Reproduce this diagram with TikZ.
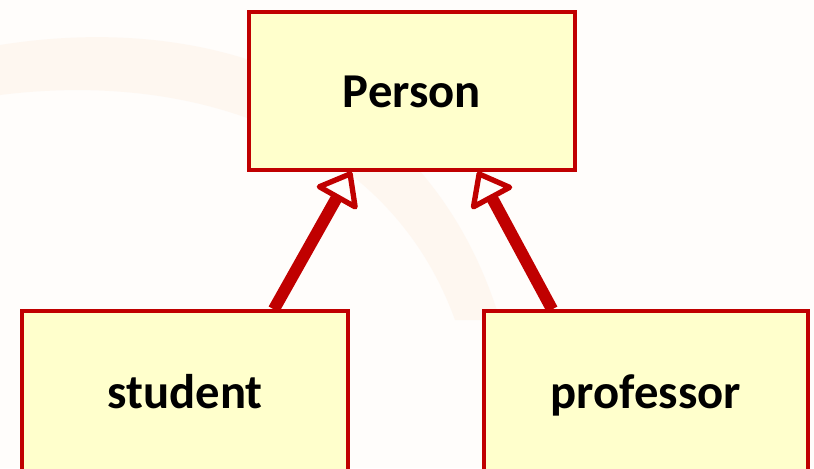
\documentclass[tikz,border=0pt]{standalone}
\usepackage{fontspec}
\setmainfont{Carlito}
\usetikzlibrary{arrows.meta,calc}
\definecolor{umlred}{HTML}{C00000}
\definecolor{umlfill}{HTML}{FFFFCC}
\definecolor{pagebg}{HTML}{FFFDFB}
\definecolor{swoosh}{HTML}{FDF0E4}
\begin{document}
\begin{tikzpicture}[x=0.75pt,y=-0.75pt,
  classbox/.style={draw=umlred, fill=umlfill, line width=2.4pt,
    inner sep=0pt, text height=24pt, text depth=0pt,
    font=\fontsize{36.5}{42}\selectfont\bfseries},
  inherit/.style={draw=umlred, line width=9pt,
    -{Triangle[open, length=25pt, width=38pt, line width=4pt, round]}}]
\useasboundingbox (0,0) rectangle (814,468);
\clip (0,0) rectangle (814,468);
% page background with a faint decorative swoosh
\fill[pagebg] (0,0) rectangle (814,468);
\fill[swoosh, opacity=0.45] (0,45) .. controls (220,10) and (430,90) .. (500,320)
  -- (455,320) .. controls (390,140) and (200,70) .. (0,95) -- cycle;
% classes
\node[classbox, minimum width=244.5pt, minimum height=118.5pt] (person) at (412,91) {Person};
\node[classbox, minimum width=244.5pt, minimum height=121.5pt] (student) at (185,392) {student};
\node[classbox, minimum width=243pt, minimum height=121.5pt] (professor) at (646,392) {professor};
% generalisation arrows
\draw[inherit] ($(student.north west)!0.77!(student.north east)$)
  -- ($(person.south west)!0.316!(person.south east)$);
\draw[inherit] ($(professor.north west)!0.213!(professor.north east)$)
  -- ($(person.south west)!0.70!(person.south east)$);
\end{tikzpicture}
\end{document}
